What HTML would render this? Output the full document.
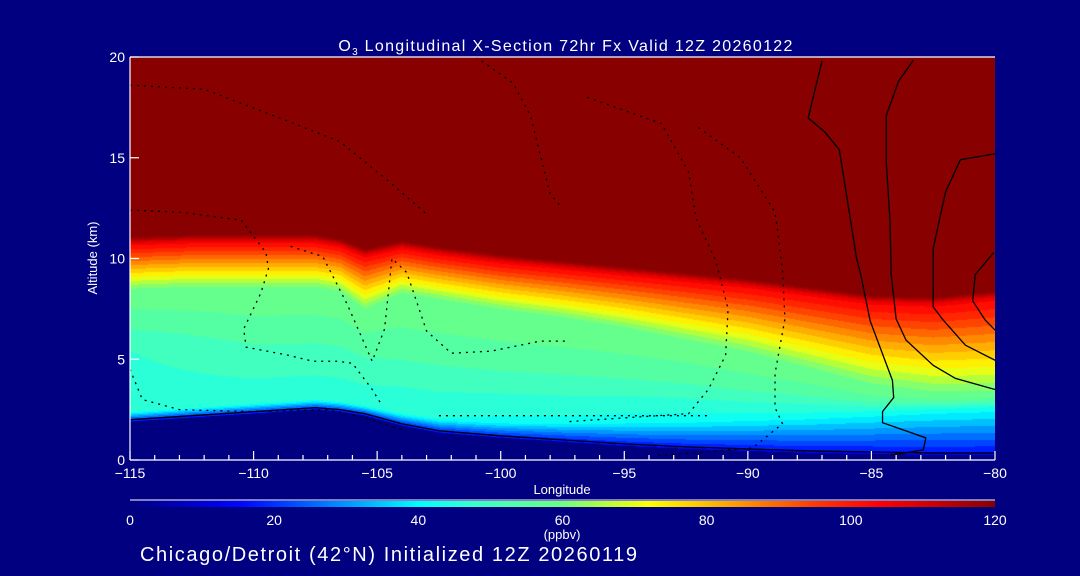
<!DOCTYPE html>
<html><head><meta charset="utf-8"><style>
html,body{margin:0;padding:0;background:#000080;}
#wrap{position:relative;width:1080px;height:576px;overflow:hidden;background:#000080;font-family:"Liberation Sans",sans-serif;color:#fff;}
canvas{position:absolute;left:130px;top:57px;}
svg{position:absolute;left:0;top:0;}
text{fill:#fff;font-family:"Liberation Sans",sans-serif;}
</style></head><body>
<div id="wrap">
<canvas id="field" width="865" height="403"></canvas>
<svg id="ov" width="1080" height="576"></svg>
</div>
<script>
// ---- data ----
const lons = [-115,-112.5,-110,-107.5,-106.5,-105.5,-104,-102.5,-100,-97.5,-95,-92.5,-90,-87.5,-85,-82.5,-80];
const terrainKm = [1.9,2.1,2.3,2.5,2.4,2.2,1.7,1.35,1.1,0.9,0.7,0.55,0.45,0.35,0.3,0.25,0.25];
const tropoKm = [10.7,10.8,10.8,10.8,10.6,10.1,10.5,10.2,9.8,9.5,9.2,8.9,8.6,8.2,7.8,7.7,8.0];
const transKm = [2.2,2.2,2.2,2.2,2.2,2.6,2.2,2.2,2.3,2.4,2.6,2.9,3.2,3.6,4.0,4.3,4.6];
const pblKm = [0.5,0.5,0.5,0.5,0.5,0.5,0.6,0.7,0.8,1.0,1.2,1.4,1.6,1.8,2.0,2.2,2.3];
const lowVal = [45,45,45,45,45,45,44,44,43,43,42,42,42,42,42,42,42];
const midVal = [48,50,52,52,52,52,53,53,53,53,53,53,54,54,55,55,55];
const xTicks = [-115,-110,-105,-100,-95,-90,-85,-80];
const yTicks = [0,5,10,15,20];
const cbTicks = [0,20,40,60,80,100,120];
// contour lines [lon, alt]
const solidLines = [
 [[-87.0,19.8],[-87.56,16.97],[-86.9,16.3],[-86.3,15.4],[-85.6,10.0],[-85.45,9.3],[-85.05,6.9],[-84.15,3.95],[-84.1,3.1],[-84.55,2.4],[-84.55,1.85],[-82.8,1.1],[-82.9,0.5],[-84.2,0.25]],
 [[-83.3,19.85],[-83.9,18.8],[-84.4,17.1],[-84.4,14.8],[-84.25,11.9],[-84.2,9.2],[-84.0,7.0],[-83.6,5.95],[-82.5,4.7],[-81.6,4.05],[-80.0,3.5]],
 [[-80.0,15.2],[-81.4,14.9],[-82.0,13.3],[-82.5,10.5],[-82.5,7.6],[-82.1,6.95],[-81.2,5.7],[-80.0,4.95]],
 [[-80.05,10.3],[-80.8,9.2],[-80.9,7.9],[-80.4,6.95],[-80.0,6.45]]
];
const dottedLines = [
 [[-115,12.4],[-113,12.3],[-110.5,11.9],[-109.5,10.3],[-109.4,9.5],[-109.7,8.3],[-110.4,6.5],[-110.3,5.6],[-108.6,5.2],[-107.6,4.9],[-106.6,4.9],[-106,4.8],[-105.2,3.5],[-104.8,2.7]],
 [[-108.5,10.6],[-107.2,10.1],[-106.2,7.7],[-105.2,4.9],[-104.7,6.5],[-104.4,10.0],[-103.8,9.3],[-103,6.4],[-102,5.3],[-100.4,5.4],[-98.4,5.9],[-97.2,5.9]],
 [[-115,18.6],[-112,18.4],[-109,17.0],[-106.5,15.8],[-104.5,13.8],[-103,12.2]],
 [[-101,20],[-99.5,18.7],[-98.8,17.1],[-98.0,13.2],[-97.5,12.5]],
 [[-96.5,18.0],[-93.5,16.7],[-92.4,14.3],[-92.1,12.0],[-91.3,9.9],[-90.8,7.5],[-90.9,5.2],[-91.6,3.5],[-92.4,2.3],[-95.5,2.05],[-97.3,1.9]],
 [[-92,16.5],[-90.3,15.0],[-88.9,12.3],[-88.6,9.5],[-88.5,7.0],[-88.9,4.3],[-88.9,2.6],[-88.6,1.8],[-89.8,0.6],[-93.8,0.2]],
 [[-115,4.5],[-114.5,3.0],[-113,2.5],[-110,2.4],[-107,2.5],[-105.5,2.1],[-104,1.5]],
 [[-102.5,2.2],[-98,2.2],[-95,2.2],[-91.5,2.2]]
];
// ---- axes ----
const X0=130,X1=995,Y0=460,Y1=57;
const xs = lon => X0 + (lon+115)/35*(X1-X0);
const ys = alt => Y0 - alt/20*(Y0-Y1);
function interp(arr, lon){
  if(lon<=lons[0]) return arr[0];
  for(let i=1;i<lons.length;i++){ if(lon<=lons[i]){const f=(lon-lons[i-1])/(lons[i]-lons[i-1]);return arr[i-1]+f*(arr[i]-arr[i-1]);} }
  return arr[arr.length-1];
}
function profile(lon, z){
  const t=interp(terrainKm,lon), T=interp(tropoKm,lon), w=interp(transKm,lon), b=interp(pblKm,lon);
  const lv=interp(lowVal,lon), mv=interp(midVal,lon);
  if(z<t) return 5;
  const a=t+b, c=Math.max(T-w,a+0.3), m=(a+c)/2;
  const pts=[[t,15],[a,lv],[m,mv],[c,60],[T,105],[T+0.4,122]];
  if(z>=pts[pts.length-1][0]) return 122;
  for(let i=1;i<pts.length;i++){ if(z<=pts[i][0]){const f=(z-pts[i-1][0])/(pts[i][0]-pts[i-1][0]);return pts[i-1][1]+f*(pts[i][1]-pts[i-1][1]);} }
  return 122;
}
const stops=[[0,[0,0,128]],[15,[0,0,255]],[25,[0,100,255]],[32,[0,170,255]],[40,[0,255,255]],[47,[50,255,210]],[53,[80,255,170]],[60,[110,255,130]],[66,[180,255,60]],[72,[255,255,0]],[80,[255,190,0]],[88,[255,120,0]],[96,[255,50,0]],[104,[255,0,0]],[112,[200,0,0]],[120,[136,0,0]]];
function cmap(v){
  v=Math.max(0,Math.min(120,v));
  for(let i=1;i<stops.length;i++){ if(v<=stops[i][0]){const f=(v-stops[i-1][0])/(stops[i][0]-stops[i-1][0]);const a=stops[i-1][1],b=stops[i][1];return [0,1,2].map(k=>Math.round(a[k]+f*(b[k]-a[k])));} }
  return stops[stops.length-1][1];
}
// field
const cv=document.getElementById('field'), ctx=cv.getContext('2d');
const img=ctx.createImageData(865,403);
for(let px=0;px<865;px++){
  const lon=-115+(px+0.5)/865*35;
  for(let py=0;py<403;py++){
    const z=(403-py-0.5)/403*20;
    let v=profile(lon,z);
    v=v<10?0:Math.floor(v/4)*4+2;
    const c=cmap(v), i=(py*865+px)*4;
    img.data[i]=c[0];img.data[i+1]=c[1];img.data[i+2]=c[2];img.data[i+3]=255;
  }
}
ctx.putImageData(img,0,0);
// overlay
const NS='http://www.w3.org/2000/svg', svg=document.getElementById('ov');
function el(tag,attrs,parent){const e=document.createElementNS(NS,tag);for(const k in attrs)e.setAttribute(k,attrs[k]);(parent||svg).appendChild(e);return e;}
function txt(s,x,y,size,anchor){const e=el('text',{x:x,y:y,'font-size':size,'text-anchor':anchor||'middle'});e.textContent=s;return e;}
solidLines.forEach((ln,i)=>{
  const p=el('polyline',{points:ln.map(d=>xs(d[0])+','+ys(d[1])).join(' '),fill:'none',stroke:'#000','stroke-width':1.3});
  
  
});
dottedLines.forEach((ln,i)=>{
  const p=el('polyline',{points:ln.map(d=>xs(d[0])+','+ys(d[1])).join(' '),fill:'none',stroke:'#000','stroke-width':1.3,'stroke-dasharray':'2,5'});
  
  
});
const zl=el('polyline',{points:lons.map((l,i)=>xs(l)+','+ys(terrainKm[i]+0.1)).join(' '),fill:'none',stroke:'#000','stroke-width':1.3});


const ax=el('g',{stroke:'#fff','stroke-width':1.2});


el('line',{x1:X0,y1:Y0,x2:X1,y2:Y0},ax);
el('line',{x1:X0,y1:Y1,x2:X1,y2:Y1},ax);
el('line',{x1:X0,y1:Y0,x2:X0,y2:Y1},ax);
for(let l=-115;l<=-80;l++){const maj=(l%5===0);el('line',{x1:xs(l),y1:Y0,x2:xs(l),y2:Y0-(maj?9:5)},ax);}
yTicks.forEach(v=>el('line',{x1:X0,y1:ys(v),x2:X0+9,y2:ys(v)},ax));
xTicks.forEach(v=>{const t=txt(String(v).replace('-','\u2212'),xs(v),478,14);});
yTicks.forEach(v=>{const t=txt(String(v),125,ys(v)+5,14,'end');});
const xt=txt('Longitude',562,494,13);
const yt=txt('Altitude (km)',0,0,13);yt.setAttribute('transform','translate(97,258) rotate(-90)');
const ti=el('text',{x:566,y:51,'font-size':16,'text-anchor':'middle','letter-spacing':'1.3'});

ti.innerHTML='O<tspan font-size="10" dy="4">3</tspan><tspan dy="-4"> Longitudinal X-Section 72hr  Fx Valid 12Z 20260122</tspan>';
const defs=el('defs',{});
const lg=el('linearGradient',{id:'cbg',x1:0,x2:1,y1:0,y2:0},defs);
for(let v=0;v<=120;v+=4){el('stop',{offset:v/120,'stop-color':'rgb('+cmap(v).join(',')+')'},lg);}
const cb=el('rect',{x:X0,y:501,width:X1-X0,height:6,fill:'url(#cbg)'});

el('line',{x1:X0,y1:500,x2:X1,y2:500,stroke:'#fff','stroke-width':1});
cbTicks.forEach(v=>{const t=txt(String(v),X0+v/120*(X1-X0),525,14);});
const un=txt('(ppbv)',562,539,13);
const ft=el('text',{x:140,y:561,'font-size':20,'text-anchor':'start','letter-spacing':'1.6'});
ft.textContent='Chicago/Detroit (42\u00B0N) Initialized 12Z 20260119';

</script>
</body></html>
